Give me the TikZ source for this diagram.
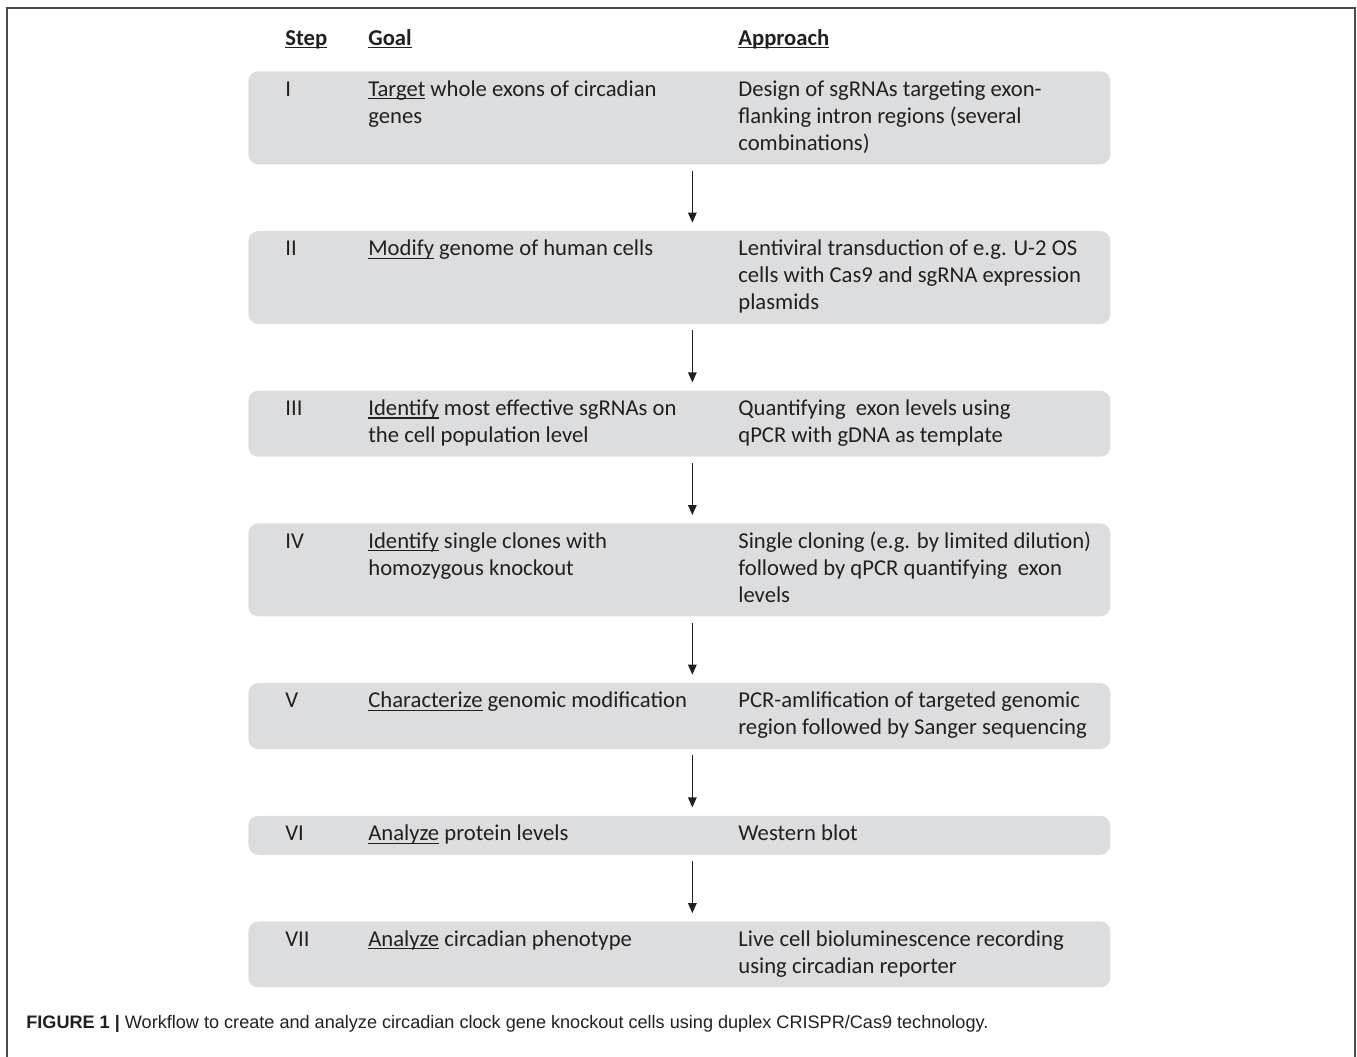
\documentclass[tikz,border=0pt]{standalone}
\usepackage{fontspec}
\setmainfont{Carlito}
\newfontfamily\capfont{Liberation Sans}
\usetikzlibrary{positioning,arrows.meta}
\definecolor{boxgray}{HTML}{DCDDDF}
\definecolor{ink}{HTML}{231F20}
\definecolor{framegray}{HTML}{4A4A4A}
\newcommand{\undl}[1]{\leavevmode\setbox0\hbox{#1}\rlap{\rule[-1.7pt]{\wd0}{0.65pt}}\box0\relax}
\newcommand{\steprow}[3]{\begin{tabular}{@{\hspace{0.74cm}}p{1.66cm}@{}p{7.4cm}@{}p{7.44cm}@{}}#1 & #2 & #3\end{tabular}}

\begin{document}
\begin{tikzpicture}
 \tikzset{step box/.style={rectangle, fill=boxgray, rounded corners=0.2cm,
 		minimum width=17.24cm, inner xsep=0pt, inner ysep=0.12cm,
 		text=ink, font=\fontsize{12.9}{15.36}\selectfont}, }
 \tikzset{head node/.style={anchor=base west, inner sep=0pt, text=ink,
 		font=\fontsize{12.9}{15.36}\selectfont\bfseries}, }
 \tikzset{linea/.style={-{Triangle[length=0.2cm,width=0.17cm]}, ink, line width=0.8pt,
 		shorten <=0.12cm, shorten >=0.16cm},}
 \useasboundingbox (0,0) rectangle (27.14,-21.12);
 \draw[framegray, line width=1pt] (0.14,-21.3) |- (27.1,-0.16) -- (27.1,-21.3);
 \node[head node] (hs) at (5.7,-0.9) {\undl{Step}};
 \node[head node] (hg) at (7.36,-0.9) {\undl{Goal}};
 \node[head node] (ha) at (14.76,-0.9) {\undl{Approach}};
 \begin{scope}[node distance=1.32cm]
 \node[step box, anchor=north west] (1) at (4.96,-1.42) {\steprow{I}
 	{\undl{Target} whole exons of circadian\newline genes}
 	{Design of sgRNAs targeting exon-\newline flanking intron regions (several\newline combinations)}};
 \node[step box] (2)[below=of 1] {\steprow{II}
 	{\undl{Modify} genome of human cells}
 	{Lentiviral transduction of e.g. U-2 OS\newline cells with Cas9 and sgRNA expression\newline plasmids}};
 \node[step box] (3)[below=of 2] {\steprow{III}
 	{\undl{Identify} most effective sgRNAs on\newline the cell population level}
 	{Quantifying\ \ exon levels using\newline qPCR with gDNA as template}};
 \node[step box] (4)[below=of 3] {\steprow{IV}
 	{\undl{Identify} single clones with\newline homozygous knockout}
 	{Single cloning (e.g. by limited dilution)\newline followed by qPCR quantifying\ \ exon\newline levels}};
 \node[step box] (5)[below=of 4] {\steprow{V}
 	{\undl{Characterize} genomic modification}
 	{PCR-amlification of targeted genomic\newline region followed by Sanger sequencing}};
 \node[step box] (6)[below=of 5] {\steprow{VI}
 	{\undl{Analyze} protein levels}
 	{Western blot}};
 \node[step box] (7)[below=of 6] {\steprow{VII}
 	{\undl{Analyze} circadian phenotype}
 	{Live cell bioluminescence recording\newline using circadian reporter}};
 \end{scope}
 \foreach \x /\y in {1/2,2/3,3/4,4/5,5/6,6/7}
 \draw[linea] ([xshift=0.26cm]\x.south) -- ([xshift=0.26cm]\y.north);
 \node[anchor=base west, inner sep=0pt, text=ink, font=\capfont\fontsize{10.3}{12}\selectfont] (cap) at (0.52,-20.56)
 	{\textbf{FIGURE 1 |} Workflow to create and analyze circadian clock gene knockout cells using duplex CRISPR/Cas9 technology.};
\end{tikzpicture}
\end{document}
